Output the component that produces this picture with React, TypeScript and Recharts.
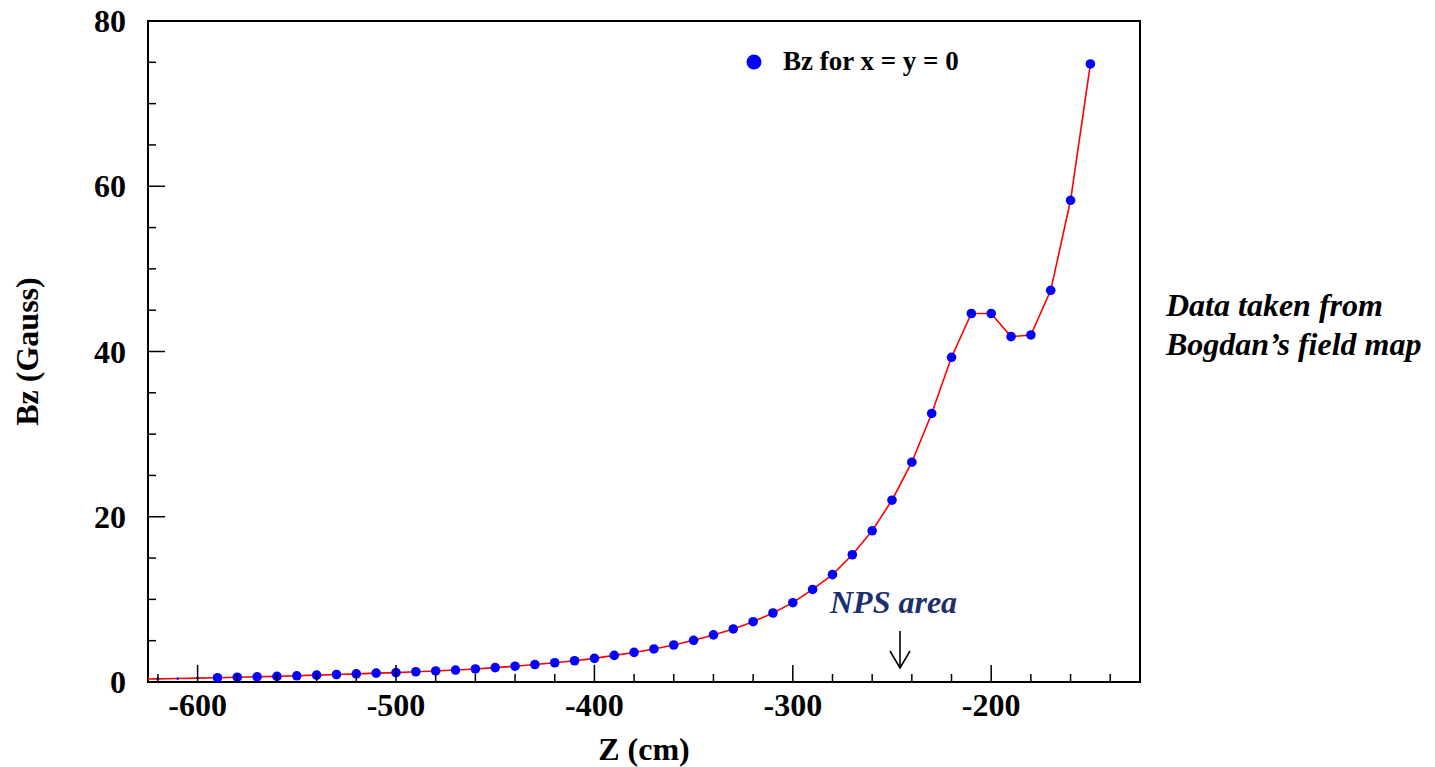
import { LineChart, Line, XAxis, YAxis, ReferenceArea, Label } from "recharts";

const zPositions = [
  -630, -620, -610, -600, -590, -580, -570, -560, -550, -540, -530, -520, -510,
  -500, -490, -480, -470, -460, -450, -440, -430, -420, -410, -400, -390, -380,
  -370, -360, -350, -340, -330, -320, -310, -300, -290, -280, -270, -260, -250,
  -240, -230, -220, -210, -200, -190, -180, -170, -160, -150,
];

const bzValues = [
  0.34, 0.38, 0.42, 0.47, 0.52, 0.58, 0.63, 0.68, 0.75, 0.83, 0.91, 0.98, 1.07,
  1.14, 1.24, 1.34, 1.45, 1.58, 1.74, 1.91, 2.11, 2.33, 2.57, 2.86, 3.22, 3.58,
  4.0, 4.48, 5.05, 5.7, 6.42, 7.3, 8.35, 9.6, 11.2, 13.0, 15.4, 18.3, 22.0,
  26.6, 32.5, 39.3, 44.6, 44.6, 41.8, 42.0, 47.4, 58.3, 74.8,
];

const xTicks = [
  -620, -600, -580, -560, -540, -520, -500, -480, -460, -440, -420, -400, -380,
  -360, -340, -320, -300, -280, -260, -240, -220, -200, -180, -160, -140,
];
const yTicks = [0, 5, 10, 15, 20, 25, 30, 35, 40, 45, 50, 55, 60, 65, 70, 75, 80];

const data = zPositions.map((z, i) => ({ z, bz: bzValues[i] }));

const FONT = "'Liberation Serif', 'Times New Roman', serif";
const SMALL_MARKER_BELOW = -595;

const XTick = (props: any) => {
  const { x, y, payload } = props;
  const major = payload.value % 100 === 0;
  return (
    <g>
      <line x1={x} y1={y} x2={x} y2={y - (major ? 17 : 8)} stroke="#000" strokeWidth={1.5} />
      {major && (
        <text x={x} y={y + 34} textAnchor="middle" fontFamily={FONT} fontWeight="bold" fontSize={32} fill="#000">
          {payload.value}
        </text>
      )}
    </g>
  );
};

const YTick = (props: any) => {
  const { x, y, payload } = props;
  const major = payload.value % 20 === 0;
  return (
    <g>
      <line x1={x} y1={y} x2={x + (major ? 17 : 8)} y2={y} stroke="#000" strokeWidth={1.5} />
      {major && (
        <text x={x - 22} y={y + 11} textAnchor="end" fontFamily={FONT} fontWeight="bold" fontSize={32} fill="#000">
          {payload.value}
        </text>
      )}
    </g>
  );
};

const Marker = (props: any) => {
  const { cx, cy, payload, index } = props;
  const r = payload.z < SMALL_MARKER_BELOW ? 1.4 : 4.8;
  return <circle key={index} cx={cx} cy={cy} r={r} fill="#0000ff" />;
};

export default function App() {
  return (
    <div style={{ position: "absolute", left: 0, top: 0, width: 1435, height: 767, background: "#fff" }}>
      <LineChart width={1435} height={767} data={data} margin={{ top: 21, right: 295, bottom: 55, left: 88 }}>
        <XAxis
          type="number"
          dataKey="z"
          domain={[-625, -125]}
          allowDataOverflow
          ticks={xTicks}
          interval={0}
          height={30}
          tickSize={0}
          tickMargin={0}
          axisLine={false}
          tickLine={false}
          tick={XTick}
        >
          <Label
            content={(p: any) => (
              <text
                x={p.viewBox.x + p.viewBox.width / 2}
                y={p.viewBox.y + 78}
                textAnchor="middle"
                fontFamily={FONT}
                fontWeight="bold"
                fontSize={32}
                fill="#000"
              >
                Z (cm)
              </text>
            )}
          />
        </XAxis>
        <YAxis
          type="number"
          domain={[0, 80]}
          allowDataOverflow
          ticks={yTicks}
          interval={0}
          width={60}
          tickSize={0}
          tickMargin={0}
          axisLine={false}
          tickLine={false}
          tick={YTick}
        >
          <Label
            content={(p: any) => {
              const cx = p.viewBox.x - 50;
              const cy = p.viewBox.y + p.viewBox.height / 2;
              return (
                <text
                  x={cx}
                  y={cy}
                  transform={`rotate(-90 ${cx} ${cy})`}
                  textAnchor="middle"
                  fontFamily={FONT}
                  fontWeight="bold"
                  fontSize={32}
                  fill="#000"
                >
                  Bz (Gauss)
                </text>
              );
            }}
          />
        </YAxis>
        <ReferenceArea
          x1={-625}
          x2={-125}
          y1={0}
          y2={80}
          fill="none"
          fillOpacity={0}
          stroke="#000"
          strokeWidth={2}
          ifOverflow="visible"
        />
        <Line
          type="linear"
          dataKey="bz"
          stroke="#ff0000"
          strokeWidth={1.6}
          dot={Marker}
          activeDot={false}
          isAnimationActive={false}
        />
      </LineChart>
      <svg
        width={1435}
        height={767}
        style={{ position: "absolute", left: 0, top: 0, pointerEvents: "none" }}
      >
        <circle cx={754} cy={62} r={7.5} fill="#0000ff" />
        <text x={783} y={70} fontFamily={FONT} fontWeight="bold" fontSize={27} fill="#000">
          Bz for x = y = 0
        </text>
        <text x={830} y={613} fontFamily={FONT} fontWeight="bold" fontStyle="italic" fontSize={32} fill="#1c2f6e">
          NPS area
        </text>
        <line x1={900} y1={631} x2={900} y2={668} stroke="#000" strokeWidth={1.6} />
        <polyline points="890,651 900,668 910,651" fill="none" stroke="#000" strokeWidth={1.6} />
        <text fontFamily={FONT} fontWeight="bold" fontStyle="italic" fontSize={32} fill="#000">
          <tspan x={1166} y={316}>Data taken from</tspan>
          <tspan x={1166} y={355}>Bogdan’s field map</tspan>
        </text>
      </svg>
    </div>
  );
}
